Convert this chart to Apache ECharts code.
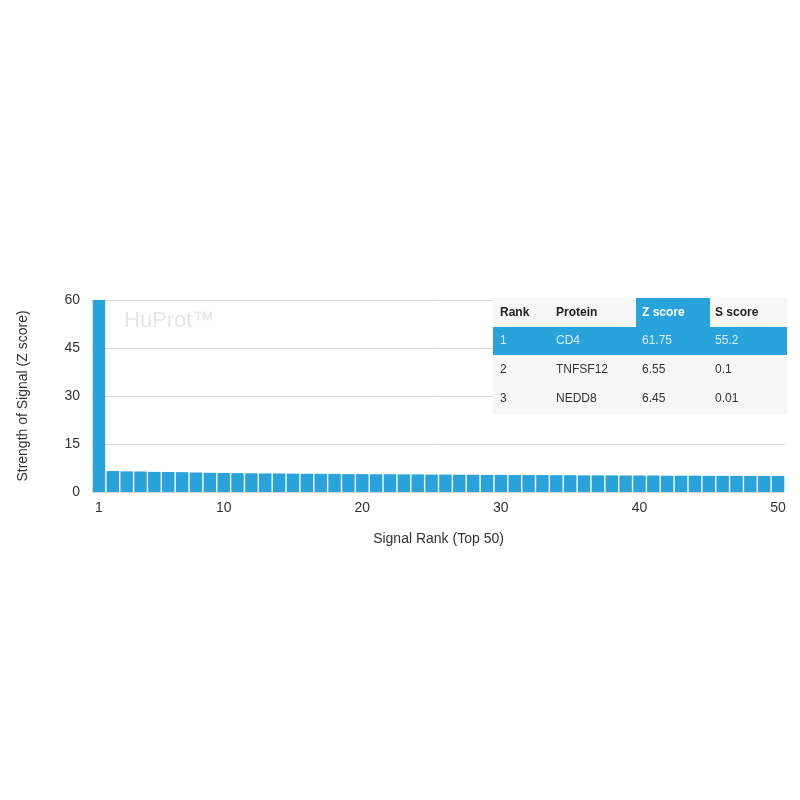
<!DOCTYPE html>
<html><head><meta charset="utf-8">
<script src="https://cdn.jsdelivr.net/npm/echarts@6/dist/echarts.min.js"></script>
<style>html,body{margin:0;background:#fff}#c{width:800px;height:800px}</style>
</head><body><div id="c"></div>
<script>
const ranks = Array.from({length:50},(_,i)=>String(i+1));
const zScores = [61.75,6.55,6.45,6.4,6.3,6.25,6.2,6.1,6.0,5.95,5.9,5.85,5.8,5.8,5.75,5.7,5.7,5.65,5.6,5.6,5.55,5.55,5.5,5.5,5.45,5.45,5.4,5.4,5.35,5.35,5.3,5.3,5.3,5.25,5.25,5.2,5.2,5.2,5.15,5.15,5.15,5.1,5.1,5.1,5.05,5.05,5.05,5.0,5.0,5.0];
const tableHeader = ['Rank','Protein','Z score','S score'];
const tableRows = [['1','CD4','61.75','55.2'],['2','TNFSF12','6.55','0.1'],['3','NEDD8','6.45','0.01']];
const tickLabels = ['1','10','20','30','40','50'];

const colX=[500,556,642,715], rowY=[313,341,370,399];
const g=[
 {type:'rect',shape:{x:493,y:298,width:294,height:116},style:{fill:'#f7f7f7'},z:10},
 {type:'rect',shape:{x:636,y:298,width:74,height:29},style:{fill:'#29a3dc'},z:11},
 {type:'rect',shape:{x:493,y:327,width:294,height:28},style:{fill:'#29a3dc'},z:11},
 {type:'text',left:124,top:310,style:{text:'HuProt™',fontSize:22,fill:'#e6e6e6',fontFamily:'Helvetica, Arial, sans-serif'},z:5}
];
tableHeader.forEach((h,i)=>g.push({type:'text',x:colX[i],y:rowY[0],style:{text:h,fontSize:12,fontWeight:'bold',fill:i===2?'#fff':'#222',verticalAlign:'middle',fontFamily:'Helvetica, Arial, sans-serif'},z:12}));
tableRows.forEach((r,ri)=>r.forEach((v,i)=>g.push({type:'text',x:colX[i],y:rowY[ri+1],style:{text:v,fontSize:12,fill:ri===0?'#d8eefa':'#333',verticalAlign:'middle',fontFamily:'Helvetica, Arial, sans-serif'},z:12})));

const chart=echarts.init(document.getElementById('c'));
chart.setOption({
 animation:false,
 textStyle:{fontFamily:'Helvetica, Arial, sans-serif'},
 grid:{left:92,right:15,top:300,bottom:308,containLabel:false},
 xAxis:{type:'category',data:ranks,name:'Signal Rank (Top 50)',nameLocation:'middle',nameGap:40,
  nameTextStyle:{fontSize:14,color:'#333'},
  axisLine:{show:false},axisTick:{show:false},
  axisLabel:{fontSize:14,color:'#333',interval:0,margin:9,formatter:v=>tickLabels.includes(v)?v:''}},
 yAxis:{type:'value',min:0,max:60,interval:15,name:'Strength of Signal (Z score)',nameLocation:'middle',nameGap:62,
  nameTextStyle:{fontSize:14,color:'#333'},
  axisLabel:{fontSize:14,color:'#333',margin:12},
  splitLine:{lineStyle:{color:'#d9d9d9'}}},
 series:[{type:'bar',data:zScores,barCategoryGap:'10%',itemStyle:{color:'#29a3dc'}}],
 graphic:g
});
</script></body></html>
